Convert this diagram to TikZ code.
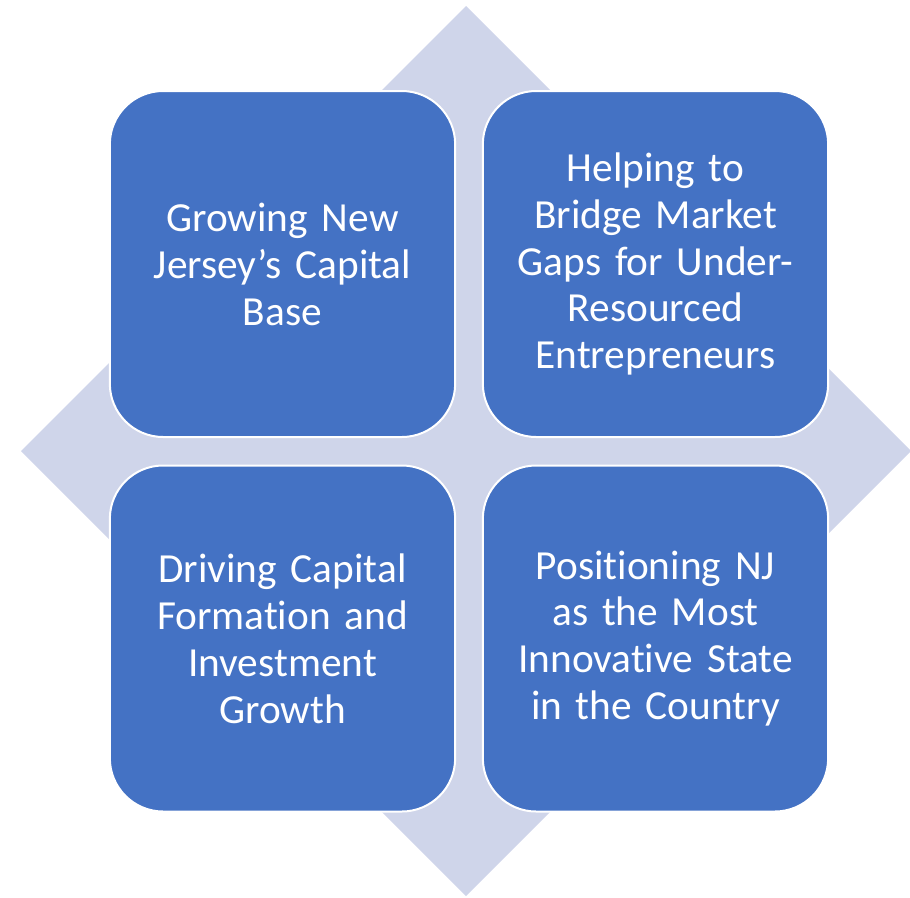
\documentclass[tikz,border=0pt]{standalone}
\usepackage{fontspec}
\setmainfont{Carlito}[Ligatures={NoCommon}]
\definecolor{boxblue}{HTML}{4472C4}
\definecolor{backblue}{HTML}{CFD5EA}

\begin{document}
\begin{tikzpicture}[x=0.75pt,y=-0.75pt]
\tikzset{goal box/.style=
	{draw=white,line width=1.5pt,fill=boxblue,rounded corners=40pt,
	minimum width=259pt,minimum height=259.5pt,text width=245pt,
	align=center,text=white,font=\fontsize{31}{35.2}\selectfont},
	backdrop/.style=
	{fill=backblue}}
\useasboundingbox (0,0) rectangle (910,897);
\fill[backdrop] (466,6) -- (911,451) -- (466,896) -- (21,451) -- cycle;
\node[goal box] (capital) at (282.5,264) {Growing New\\Jersey’s Capital\\Base};
\node[goal box] (gaps) at (655.5,264) {Helping to\\Bridge Market\\Gaps for Under-\\Resourced\\Entrepreneurs};
\node[goal box] (formation) at (282.5,638.5) {Driving Capital\\Formation and\\Investment\\Growth};
\node[goal box] (innovative) at (655.5,638.5) {Positioning NJ\\as the Most\\Innovative State\\in the Country};
\end{tikzpicture}
\end{document}
